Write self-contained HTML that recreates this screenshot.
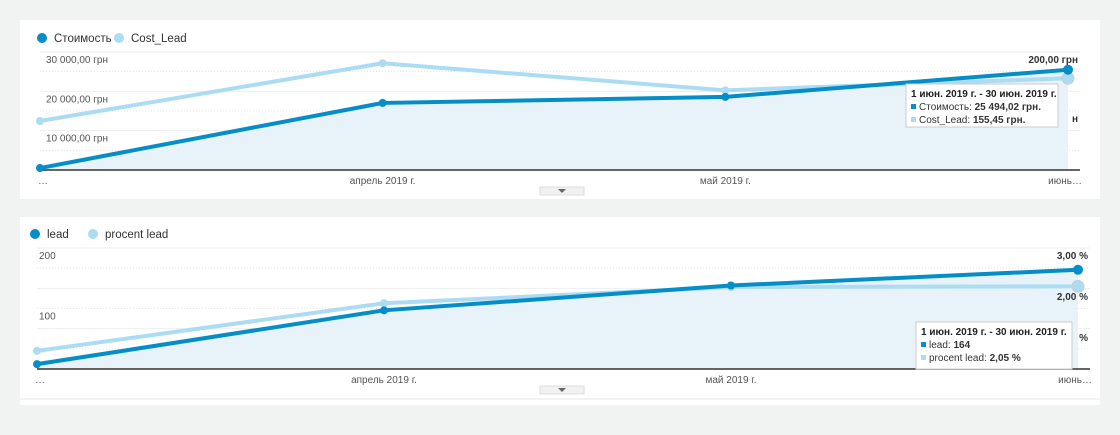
<!DOCTYPE html>
<html><head><meta charset="utf-8"><style>
body{margin:0;background:#f1f2f2;font-family:"Liberation Sans",Arial,sans-serif;}
svg text{font-family:"Liberation Sans",Arial,sans-serif;}
</style></head><body>
<svg id="svg" width="1120" height="430" xmlns="http://www.w3.org/2000/svg">
<rect x="0" y="0" width="1120" height="430" fill="#f1f2f2"/>
<rect x="20" y="20" width="1080" height="181" fill="#fff"/>
<rect x="20" y="217" width="1080" height="188" fill="#fff"/>
<g id="c1"></g><g id="c2"></g>
</svg>
<script>
const NS="http://www.w3.org/2000/svg";
const xLabels=["…","апрель 2019 г.","май 2019 г.","июнь…"];
const costValues=[500,17050,18580,25494];
const costLeadValues=[83,181,135,155.45];
const leadValues=[8,97,138,164];
const procentValues=[0.45,1.63,2.03,2.05];
const c1LeftTicks=[10000,20000,30000];
const c1LeftTickLabels=["10 000,00 грн","20 000,00 грн","30 000,00 грн"];
const c2LeftTicks=[100,200];
const c2LeftTickLabels=["100","200"];

function el(p,tag,a,txt){const e=document.createElementNS(NS,tag);for(const k in a)e.setAttribute(k,a[k]);if(txt!==undefined)e.textContent=txt;p.appendChild(e);return e;}

function chart(g,o){
  const xs=i=>o.x0+(o.x1-o.x0)*i/(o.n-1);
  const yL=v=>o.base-(v/o.lMax)*(o.base-o.top);
  const yR=v=>o.base-(v/o.rMax)*(o.base-o.top);
  const lg=el(g,'g',{});
  
  
  el(lg,'circle',{cx:o.legX,cy:o.legY,r:5,fill:'#058dc7'});
  el(lg,'text',{x:o.legX+12,y:o.legY+4,'font-size':11.5,fill:'#333'},o.n1);
  el(lg,'circle',{cx:o.legX2,cy:o.legY,r:5,fill:'#abdcf3'});
  el(lg,'text',{x:o.legX2+12,y:o.legY+4,'font-size':11.5,fill:'#333'},o.n2);
  el(g,'line',{x1:o.x0,x2:o.x1+12,y1:o.top,y2:o.top,stroke:'#eee','stroke-width':1});
  const step=(o.base-o.top)/6;
  for(let k=1;k<6;k++){el(g,'line',{x1:o.x0,x2:o.x1+12,y1:o.top+k*step,y2:o.top+k*step,stroke:k%2==0?'#eee':'#e4e4e4','stroke-dasharray':k%2==0?'':'1,2'});}
  let pts=o.s1.map((v,i)=>xs(i)+','+yL(v)).join(' ');
  const ar=el(g,'polygon',{points:o.x0+','+o.base+' '+pts+' '+o.x1+','+o.base,fill:'#e4f1f8',opacity:0.9});
  
  
  el(g,'line',{x1:o.x0,x2:o.x1+12,y1:o.base,y2:o.base,stroke:'#333','stroke-width':1.5});
  o.lt.forEach((v,i)=>{const t=el(g,'text',{x:o.x0+o.lx,y:yL(v)+11,'font-size':10,fill:'#555'},o.ltl[i]);
    });
  xLabels.forEach((l,i)=>{let a=i==0?'start':(i==xLabels.length-1?'end':'middle');let x=i==0?o.x0-2:(i==xLabels.length-1?o.x1+14:xs(i));
    const t=el(g,'text',{x:x,y:o.base+14,'font-size':10,fill:'#555','text-anchor':a},l);
    });
  o.rl.forEach(r=>{const t=el(g,'text',{x:o.x1+10,y:r[1],'font-size':10,'font-weight':'bold',fill:'#333','text-anchor':'end'},r[0]);
    });
  const l2=el(g,'polyline',{points:o.s2.map((v,i)=>xs(i)+','+yR(v)).join(' '),fill:'none',stroke:'#abdcf3','stroke-width':4});
  
  o.s2.forEach((v,i)=>{const c=el(g,'circle',{cx:xs(i),cy:yR(v),r:i==o.n-1?6:4,fill:'#abdcf3',stroke:i==o.n-1?'#ccc':'none'});
    });
  const l1=el(g,'polyline',{points:pts,fill:'none',stroke:'#058dc7','stroke-width':4});
  
  o.s1.forEach((v,i)=>{const c=el(g,'circle',{cx:xs(i),cy:yL(v),r:i==o.n-1?5:4,fill:'#058dc7'});
    });
  const h=el(g,'rect',{x:540,y:o.base+17,width:44,height:8,fill:'#f1f1f1',stroke:'#ddd'});
  
  el(g,'path',{d:`M558 ${o.base+19} L566 ${o.base+19} L562 ${o.base+23}Z`,fill:'#666'});
  el(g,'line',{x1:20,x2:1100,y1:o.base+30,y2:o.base+30,stroke:'#e6e6e6'});
  const tt=el(g,'g',{});
  
  el(tt,'rect',{x:o.tt[0],y:o.tt[1],width:o.tt[2],height:o.tt[3],fill:'#fff',stroke:'#ccc'});
  const tx=o.tt[0]+5,ty=o.tt[1];
  el(tt,'text',{x:tx,y:ty+13,'font-size':10,'font-weight':'bold',fill:'#222'},'1 июн. 2019 г. - 30 июн. 2019 г.');
  el(tt,'rect',{x:tx,y:ty+20,width:5,height:5,fill:'#058dc7'});
  const a=el(tt,'text',{x:tx+8,y:ty+26,'font-size':10,fill:'#333'},o.t1[0]);el(a,'tspan',{'font-weight':'bold'},o.t1[1]);
  el(tt,'rect',{x:tx,y:ty+33,width:5,height:5,fill:'#abdcf3'});
  const b=el(tt,'text',{x:tx+8,y:ty+39,'font-size':10,fill:'#333'},o.t2[0]);el(b,'tspan',{'font-weight':'bold'},o.t2[1]);
}
chart(document.getElementById('c1'),{x0:40,x1:1068,n:4,top:52,base:170,lMax:30000,rMax:200,s1:costValues,s2:costLeadValues,lx:6,
  lt:c1LeftTicks,ltl:c1LeftTickLabels,legX:42,legY:38,legX2:119,n1:'Стоимость',n2:'Cost_Lead',
  rl:[['200,00 грн',63],['н',122]],tt:[906,84,152,43],t1:['Стоимость: ','25 494,02 грн.'],t2:['Cost_Lead: ','155,45 грн.']});
chart(document.getElementById('c2'),{x0:37,x1:1078,n:4,top:248,base:369,lMax:200,rMax:3,s1:leadValues,s2:procentValues,lx:2,
  lt:c2LeftTicks,ltl:c2LeftTickLabels,legX:35,legY:234,legX2:93,n1:'lead',n2:'procent lead',
  rl:[['3,00 %',259],['2,00 %',300],['%',341]],tt:[916,322,156,47],t1:['lead: ','164'],t2:['procent lead: ','2,05 %']});
</script>
</body></html>
